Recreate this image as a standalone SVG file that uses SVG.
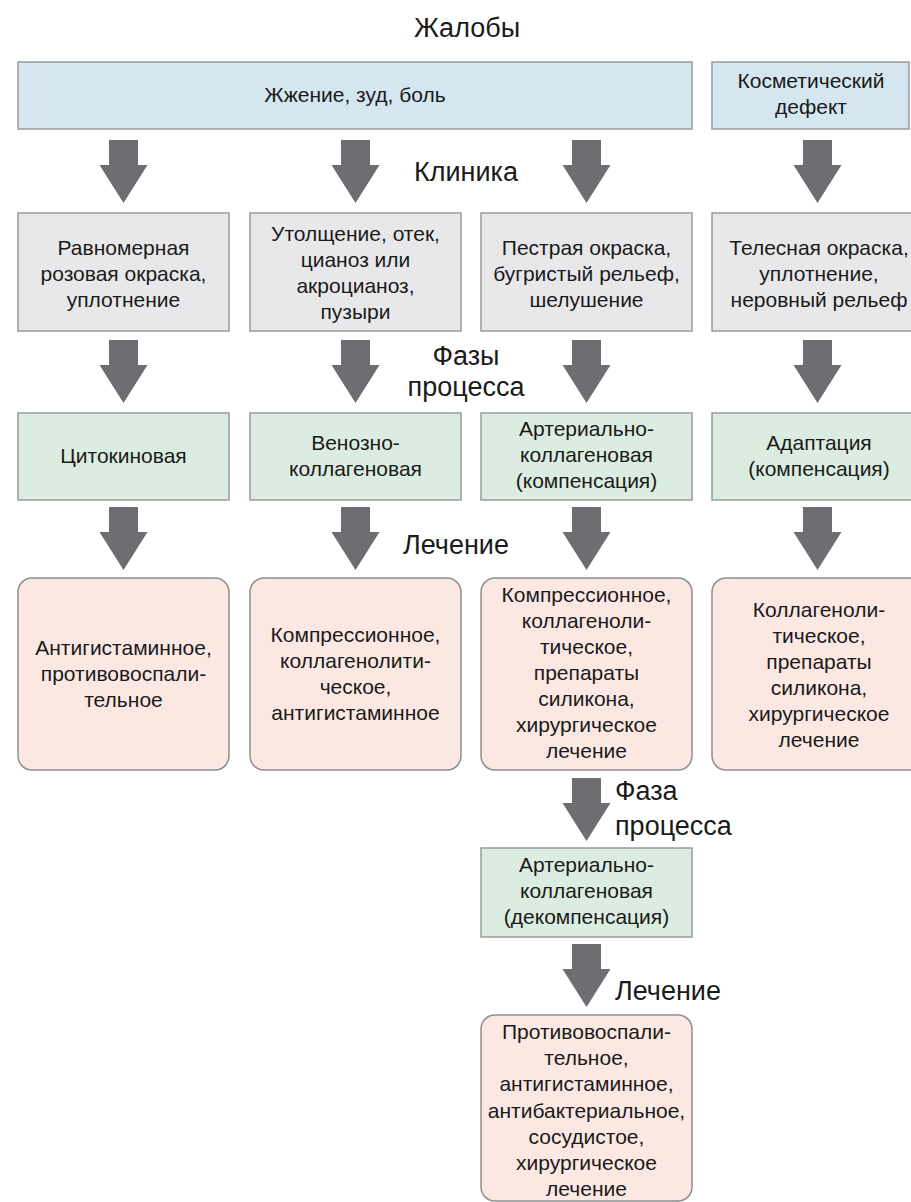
<svg xmlns="http://www.w3.org/2000/svg" width="911" height="1202" viewBox="0 0 911 1202">
<defs>
<style>
.t{font-family:"Liberation Sans",Arial,sans-serif;font-size:21px;fill:#1a1a1a;text-anchor:middle}
.lbl{font-family:"Liberation Sans",Arial,sans-serif;font-size:27px;fill:#1a1a1a;text-anchor:middle}
.lbll{font-family:"Liberation Sans",Arial,sans-serif;font-size:27px;fill:#1a1a1a}
.blue{fill:#d4e6f0;stroke:#9a9a9a;stroke-width:1.5}
.gray{fill:#e8e8ea;stroke:#9a9a9a;stroke-width:1.5}
.green{fill:#dbede0;stroke:#9a9a9a;stroke-width:1.5}
.pink{fill:#fce8e3;stroke:#8f8f8f;stroke-width:1.5}
.arr{fill:#6d6e71}
</style>
<path id="a" d="M-14.5 0 H14.5 V25 H24 L0 63 L-24 25 H-14.5 Z"/>
</defs>
<rect width="911" height="1202" fill="#ffffff"/>
<g id="labels">
<text class="lbl" x="467" y="37">Жалобы</text>
<text class="lbl" x="466" y="181">Клиника</text>
<text class="lbl" x="466" y="365">Фазы</text>
<text class="lbl" x="466" y="396">процесса</text>
<text class="lbl" x="456" y="554">Лечение</text>
<text class="lbll" x="615" y="800">Фаза</text>
<text class="lbll" x="615" y="835">процесса</text>
<text class="lbll" x="615" y="1000">Лечение</text>
</g>
<g id="connectors" class="arr">
<use href="#a" x="123.5" y="140"/>
<use href="#a" x="355.5" y="140"/>
<use href="#a" x="586.5" y="140"/>
<use href="#a" x="817.5" y="140"/>
<use href="#a" x="123.5" y="340"/>
<use href="#a" x="355.5" y="340"/>
<use href="#a" x="586.5" y="340"/>
<use href="#a" x="817.5" y="340"/>
<use href="#a" x="123.5" y="507"/>
<use href="#a" x="355.5" y="507"/>
<use href="#a" x="586.5" y="507"/>
<use href="#a" x="817.5" y="507"/>
<use href="#a" x="586.5" y="778"/>
<use href="#a" x="586.5" y="944"/>
</g>
<g id="n_complaint1"><rect class="blue" x="18" y="62" width="674" height="67"/><text class="t" x="355" y="102">Жжение, зуд, боль</text></g>
<g id="n_complaint2"><rect class="blue" x="712" y="62" width="197" height="67"/><text class="t" x="811" y="88">Косметический</text><text class="t" x="811" y="114">дефект</text></g>
<g id="n_clin1"><rect class="gray" x="18" y="213" width="211" height="118"/><text class="t" x="123.5" y="255">Равномерная</text><text class="t" x="123.5" y="281">розовая окраска,</text><text class="t" x="123.5" y="307">уплотнение</text></g>
<g id="n_clin2"><rect class="gray" x="250" y="213" width="211" height="118"/><text class="t" x="355.5" y="241">Утолщение, отек,</text><text class="t" x="355.5" y="267">цианоз или</text><text class="t" x="355.5" y="293">акроцианоз,</text><text class="t" x="355.5" y="319">пузыри</text></g>
<g id="n_clin3"><rect class="gray" x="481" y="213" width="211" height="118"/><text class="t" x="586.5" y="255">Пестрая окраска,</text><text class="t" x="586.5" y="281">бугристый рельеф,</text><text class="t" x="586.5" y="307">шелушение</text></g>
<g id="n_clin4"><rect class="gray" x="712" y="213" width="216" height="118"/><text class="t" x="819" y="255">Телесная окраска,</text><text class="t" x="819" y="281">уплотнение,</text><text class="t" x="819" y="307">неровный рельеф</text></g>
<g id="n_phase1"><rect class="green" x="18" y="413" width="211" height="87"/><text class="t" x="123.5" y="463">Цитокиновая</text></g>
<g id="n_phase2"><rect class="green" x="250" y="413" width="211" height="87"/><text class="t" x="355.5" y="450">Венозно-</text><text class="t" x="355.5" y="476">коллагеновая</text></g>
<g id="n_phase3"><rect class="green" x="481" y="413" width="211" height="87"/><text class="t" x="586.5" y="436">Артериально-</text><text class="t" x="586.5" y="462">коллагеновая</text><text class="t" x="586.5" y="488">(компенсация)</text></g>
<g id="n_phase4"><rect class="green" x="712" y="413" width="216" height="87"/><text class="t" x="819" y="450">Адаптация</text><text class="t" x="819" y="476">(компенсация)</text></g>
<g id="n_treat1"><rect class="pink" x="18" y="578" width="211" height="192" rx="14"/><text class="t" x="123.5" y="655">Антигистаминное,</text><text class="t" x="123.5" y="681">противовоспали-</text><text class="t" x="123.5" y="707">тельное</text></g>
<g id="n_treat2"><rect class="pink" x="250" y="578" width="211" height="192" rx="14"/><text class="t" x="355.5" y="642">Компрессионное,</text><text class="t" x="355.5" y="668">коллагенолити-</text><text class="t" x="355.5" y="694">ческое,</text><text class="t" x="355.5" y="720">антигистаминное</text></g>
<g id="n_treat3"><rect class="pink" x="481" y="578" width="211" height="192" rx="14"/><text class="t" x="586.5" y="602">Компрессионное,</text><text class="t" x="586.5" y="628">коллагеноли-</text><text class="t" x="586.5" y="654">тическое,</text><text class="t" x="586.5" y="680">препараты</text><text class="t" x="586.5" y="706">силикона,</text><text class="t" x="586.5" y="732">хирургическое</text><text class="t" x="586.5" y="758">лечение</text></g>
<g id="n_treat4"><rect class="pink" x="712" y="578" width="216" height="192" rx="14"/><text class="t" x="819" y="617">Коллагеноли-</text><text class="t" x="819" y="643">тическое,</text><text class="t" x="819" y="669">препараты</text><text class="t" x="819" y="695">силикона,</text><text class="t" x="819" y="721">хирургическое</text><text class="t" x="819" y="747">лечение</text></g>
<g id="n_phase5"><rect class="green" x="481" y="848" width="211" height="89"/><text class="t" x="586.5" y="872">Артериально-</text><text class="t" x="586.5" y="898">коллагеновая</text><text class="t" x="586.5" y="924">(декомпенсация)</text></g>
<g id="n_treat5"><rect class="pink" x="481" y="1015" width="211" height="186" rx="14"/><text class="t" x="586.5" y="1039">Противовоспали-</text><text class="t" x="586.5" y="1065">тельное,</text><text class="t" x="586.5" y="1091">антигистаминное,</text><text class="t" x="586.5" y="1118">антибактериальное,</text><text class="t" x="586.5" y="1144">сосудистое,</text><text class="t" x="586.5" y="1170">хирургическое</text><text class="t" x="586.5" y="1196">лечение</text></g>
</svg>
